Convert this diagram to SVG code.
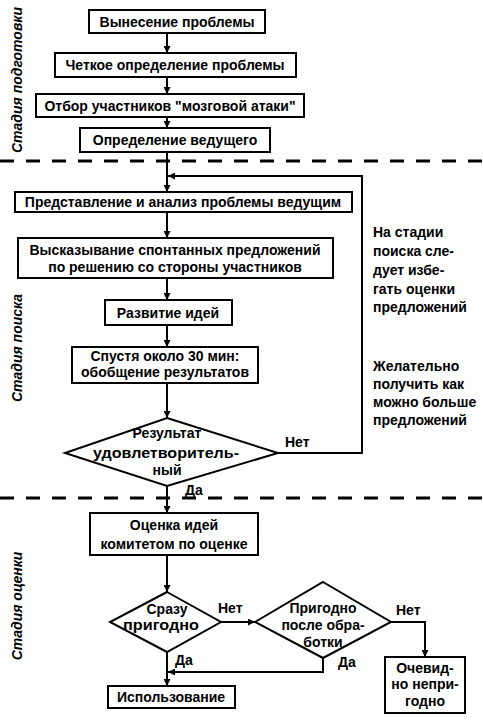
<svg xmlns="http://www.w3.org/2000/svg" width="483" height="725" viewBox="0 0 483 725">
<defs>
<style>
.box{fill:#fff;stroke:#000;stroke-width:2}
.t{font-family:"Liberation Sans",Arial,sans-serif;font-size:14px;font-weight:bold;fill:#000;text-anchor:middle}
.n{font-family:"Liberation Sans",Arial,sans-serif;font-size:14px;font-weight:bold;fill:#000}
.st{font-family:"Liberation Sans",Arial,sans-serif;font-size:14px;font-weight:bold;font-style:italic;fill:#000;text-anchor:middle}
.ln{fill:none;stroke:#000;stroke-width:2}
.dash{fill:none;stroke:#000;stroke-width:3;stroke-dasharray:14 12}
</style>
<marker id="ah" viewBox="0 0 10 10" refX="10" refY="5" markerWidth="7" markerHeight="7" markerUnits="userSpaceOnUse" orient="auto">
<path d="M0,0 L10,5 L0,10 z" fill="#000"/>
</marker>
</defs>
<rect width="483" height="725" fill="#fff"/>

<g id="stages">
<text class="st" transform="translate(22,80) rotate(-90)">Стадия подготовки</text>
<text class="st" transform="translate(22,348) rotate(-90)">Стадия поиска</text>
<text class="st" transform="translate(22,606) rotate(-90)">Стадия оценки</text>
<line class="dash" x1="0" y1="161" x2="483" y2="161"/>
<line class="dash" x1="0" y1="498" x2="483" y2="498"/>
</g>

<g id="connectors">
<line class="ln" x1="167" y1="33" x2="167" y2="53" marker-end="url(#ah)"/>
<line class="ln" x1="167" y1="77" x2="167" y2="94" marker-end="url(#ah)"/>
<line class="ln" x1="167" y1="117" x2="167" y2="128" marker-end="url(#ah)"/>
<line class="ln" x1="167" y1="152" x2="167" y2="192" marker-end="url(#ah)"/>
<line class="ln" x1="167" y1="212" x2="167" y2="238" marker-end="url(#ah)"/>
<line class="ln" x1="167" y1="278" x2="167" y2="300" marker-end="url(#ah)"/>
<line class="ln" x1="167" y1="325" x2="167" y2="347" marker-end="url(#ah)"/>
<line class="ln" x1="167" y1="383" x2="167" y2="418" marker-end="url(#ah)"/>
<polyline class="ln" points="278,453 362,453 362,176 168,176" marker-end="url(#ah)"/>
<line class="ln" x1="167" y1="486" x2="167" y2="513" marker-end="url(#ah)"/>
<line class="ln" x1="167" y1="555" x2="167" y2="592" marker-end="url(#ah)"/>
<line class="ln" x1="221" y1="622" x2="255" y2="622" marker-end="url(#ah)"/>
<line class="ln" x1="167" y1="652" x2="167" y2="686" marker-end="url(#ah)"/>
<polyline class="ln" points="323,658 323,672 168,672" marker-end="url(#ah)"/>
<polyline class="ln" points="391,622 425,622 425,657" marker-end="url(#ah)"/>
<text class="n" x="285" y="447">Нет</text>
<text class="n" x="185" y="495">Да</text>
<text class="n" x="218" y="613">Нет</text>
<text class="n" x="175" y="665">Да</text>
<text class="n" x="338" y="667">Да</text>
<text class="n" x="396" y="615">Нет</text>
</g>

<g id="n1"><rect class="box" x="89" y="10" width="176" height="23"/><text class="t" x="177" y="27">Вынесение проблемы</text></g>
<g id="n2"><rect class="box" x="55" y="53" width="241" height="24"/><text class="t" x="175" y="70">Четкое определение проблемы</text></g>
<g id="n3"><rect class="box" x="36" y="94" width="268" height="23"/><text class="t" x="170" y="111">Отбор участников "мозговой атаки"</text></g>
<g id="n4"><rect class="box" x="80" y="128" width="190" height="24"/><text class="t" x="175" y="145">Определение ведущего</text></g>
<g id="n5"><rect class="box" x="15" y="192" width="337" height="20"/><text class="t" x="183" y="207">Представление и анализ проблемы ведущим</text></g>
<g id="n6"><rect class="box" x="18" y="238" width="315" height="40"/><text class="t" x="175" y="255">Высказывание спонтанных предложений</text><text class="t" x="175" y="272">по решению со стороны участников</text></g>
<g id="n7"><rect class="box" x="105" y="300" width="127" height="25"/><text class="t" x="168" y="318">Развитие идей</text></g>
<g id="n8"><rect class="box" x="72" y="347" width="186" height="36"/><text class="t" x="165" y="361">Спустя около 30 мин:</text><text class="t" x="165" y="377">обобщение результатов</text></g>
<g id="n9"><polygon class="box" points="167,418 278,453 167,486 65,453"/><text class="t" x="167" y="438">Результат</text><text class="t" x="166" y="458" textLength="146" lengthAdjust="spacingAndGlyphs">удовлетворитель-</text><text class="t" x="167" y="475">ный</text></g>
<g id="n10"><rect class="box" x="90" y="513" width="168" height="42"/><text class="t" x="174" y="530">Оценка идей</text><text class="t" x="174" y="549">комитетом по оценке</text></g>
<g id="n11"><polygon class="box" points="167,592 221,622 167,652 110,622"/><text class="t" x="167" y="614">Сразу</text><text class="t" x="161" y="630" textLength="76" lengthAdjust="spacingAndGlyphs">пригодно</text></g>
<g id="n12"><polygon class="box" points="323,582 391,622 323,658 255,622"/><text class="t" x="323" y="613">Пригодно</text><text class="t" x="323" y="630">после обра-</text><text class="t" x="323" y="647">ботки</text></g>
<g id="n13"><rect class="box" x="108" y="686" width="127" height="22"/><text class="t" x="171" y="702">Использование</text></g>
<g id="n14"><rect class="box" x="385" y="657" width="80" height="56"/><text class="t" x="425" y="673">Очевид-</text><text class="t" x="425" y="689">но непри-</text><text class="t" x="425" y="706">годно</text></g>

<g id="notes">
<text class="n" x="373" y="237">На стадии</text>
<text class="n" x="373" y="256">поиска сле-</text>
<text class="n" x="373" y="275">дует избе-</text>
<text class="n" x="373" y="294">гать оценки</text>
<text class="n" x="373" y="312">предложений</text>
<text class="n" x="373" y="371">Желательно</text>
<text class="n" x="373" y="389">получить как</text>
<text class="n" x="373" y="407">можно больше</text>
<text class="n" x="373" y="425">предложений</text>
</g>
</svg>
